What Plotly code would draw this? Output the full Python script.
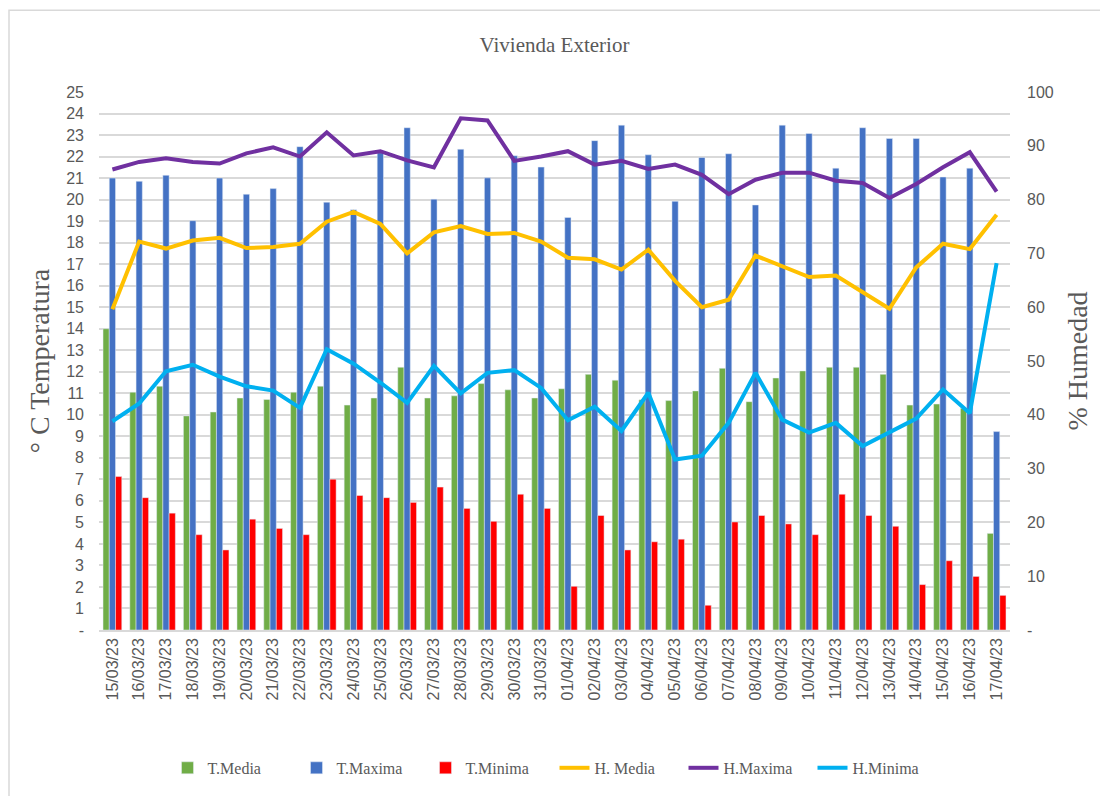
import plotly.graph_objects as go

fechas = ["15/03/23","16/03/23","17/03/23","18/03/23","19/03/23","20/03/23","21/03/23","22/03/23",
          "23/03/23","24/03/23","25/03/23","26/03/23","27/03/23","28/03/23","29/03/23","30/03/23",
          "31/03/23","01/04/23","02/04/23","03/04/23","04/04/23","05/04/23","06/04/23","07/04/23",
          "08/04/23","09/04/23","10/04/23","11/04/23","12/04/23","13/04/23","14/04/23","15/04/23",
          "16/04/23","17/04/23"]

t_media = [14.0, 11.05, 11.33, 9.95, 10.13, 10.78, 10.71, 11.05, 11.33, 10.45, 10.78, 12.21,
           10.78, 10.88, 11.45, 11.16, 10.78, 11.21, 11.88, 11.61, 10.7, 10.66, 11.11, 12.16,
           10.61, 11.71, 12.04, 12.21, 12.21, 11.88, 10.45, 10.5, 10.3, 4.49]
t_maxima = [21.0, 20.85, 21.13, 19.02, 21.0, 20.25, 20.51, 22.46, 19.88, 19.53, 22.18, 23.34,
            20.02, 22.34, 21.01, 22.04, 21.51, 19.17, 22.74, 23.46, 22.08, 19.92, 21.96, 22.13,
            19.75, 23.46, 23.07, 21.46, 23.34, 22.84, 22.84, 21.05, 21.46, 9.22]
t_minima = [7.13, 6.15, 5.43, 4.43, 3.72, 5.15, 4.72, 4.43, 7.01, 6.25, 6.15, 5.93,
            6.64, 5.65, 5.05, 6.31, 5.65, 2.03, 5.32, 3.72, 4.1, 4.22, 1.15, 5.02,
            5.32, 4.93, 4.43, 6.31, 5.32, 4.82, 2.11, 3.22, 2.49, 1.61]

h_media = [59.6, 72.2, 70.9, 72.4, 72.9, 71.0, 71.2, 71.8, 75.9, 77.7, 75.5, 70.0,
           73.9, 75.1, 73.6, 73.8, 72.2, 69.2, 68.9, 67.0, 70.7, 64.9, 60.0, 61.4,
           69.6, 67.6, 65.6, 65.9, 62.8, 59.7, 67.4, 71.8, 70.8, 77.2]
h_maxima = [85.6, 87.0, 87.7, 87.0, 86.7, 88.6, 89.7, 88.0, 92.5, 88.2, 89.0, 87.3,
            86.0, 95.1, 94.7, 87.2, 88.0, 89.0, 86.5, 87.2, 85.7, 86.5, 84.6, 81.0,
            83.7, 85.0, 85.0, 83.5, 83.1, 80.3, 82.9, 86.0, 88.8, 81.5]
h_minima = [38.8, 42.1, 48.1, 49.3, 47.1, 45.3, 44.5, 41.3, 52.2, 49.5, 46.0, 42.2,
            49.1, 44.0, 47.8, 48.3, 45.0, 39.0, 41.5, 37.0, 44.1, 31.7, 32.4, 38.5,
            47.8, 39.1, 36.7, 38.5, 34.2, 36.7, 39.3, 44.7, 40.3, 68.2]

temp_ticks = list(range(0, 26))
temp_text = ["-"] + [str(v) for v in temp_ticks[1:]]
hum_ticks = list(range(0, 101, 10))
hum_text = ["-"] + [str(v) for v in hum_ticks[1:]]

GRAY = "#595959"
SERIF = "Liberation Serif"
SANS = "Liberation Sans"

fig = go.Figure()
fig.add_trace(go.Bar(x=fechas, y=t_media, name="T.Media", marker_color="#70AD47"))
fig.add_trace(go.Bar(x=fechas, y=t_maxima, name="T.Maxima", marker_color="#4472C4"))
fig.add_trace(go.Bar(x=fechas, y=t_minima, name="T.Minima", marker_color="#FF0000"))
fig.add_trace(go.Scatter(x=fechas, y=h_media, name="H. Media", mode="lines", yaxis="y2",
                         line=dict(color="#FFC000", width=4)))
fig.add_trace(go.Scatter(x=fechas, y=h_maxima, name="H.Maxima", mode="lines", yaxis="y2",
                         line=dict(color="#7030A0", width=4)))
fig.add_trace(go.Scatter(x=fechas, y=h_minima, name="H.Minima", mode="lines", yaxis="y2",
                         line=dict(color="#00B0F0", width=4)))

fig.update_layout(
    width=1100, height=788,
    margin=dict(l=91, r=98, t=84, b=165),
    paper_bgcolor="white", plot_bgcolor="white",
    barmode="group", bargap=0.3, bargroupgap=0,
    title=dict(text="Vivienda Exterior", x=0.5, xref="paper", y=1 - 37/788, yanchor="middle",
               font=dict(family=SERIF, size=21, color=GRAY)),
    showlegend=True,
    legend=dict(orientation="h", x=0.5, xanchor="center", y=-0.254, yanchor="middle",
                font=dict(family=SERIF, size=16, color=GRAY),
                entrywidth=84, entrywidthmode="pixels"),
    xaxis=dict(type="category", tickangle=-90, tickfont=dict(family=SANS, size=16, color=GRAY),
               showline=True, linecolor="#d9d9d9", linewidth=1.5, ticks="", showgrid=False),
    yaxis=dict(range=[0, 25], tickvals=temp_ticks, ticktext=temp_text,
               tickfont=dict(family=SANS, size=16, color=GRAY),
               showgrid=True, gridcolor="#d9d9d9", gridwidth=1.5, zeroline=False,
               title=dict(text="° C Temperatura", font=dict(family=SERIF, size=28, color=GRAY),
                          standoff=8),
               ticklabelstandoff=14),
    yaxis2=dict(range=[0, 100], tickvals=hum_ticks, ticktext=hum_text, overlaying="y", side="right",
                tickfont=dict(family=SANS, size=16, color=GRAY), showgrid=False, zeroline=False,
                title=dict(text="% Humedad", font=dict(family=SERIF, size=28, color=GRAY),
                           standoff=14),
                ticklabelstandoff=16),
    shapes=[dict(type="rect", xref="paper", yref="paper", x0=-0.0988, x1=1.2, y0=-0.5, y1=1.152,
                 line=dict(color="#d9d9d9", width=1.5), fillcolor="rgba(0,0,0,0)", layer="below")],
)

fig.write_html("out.html")
